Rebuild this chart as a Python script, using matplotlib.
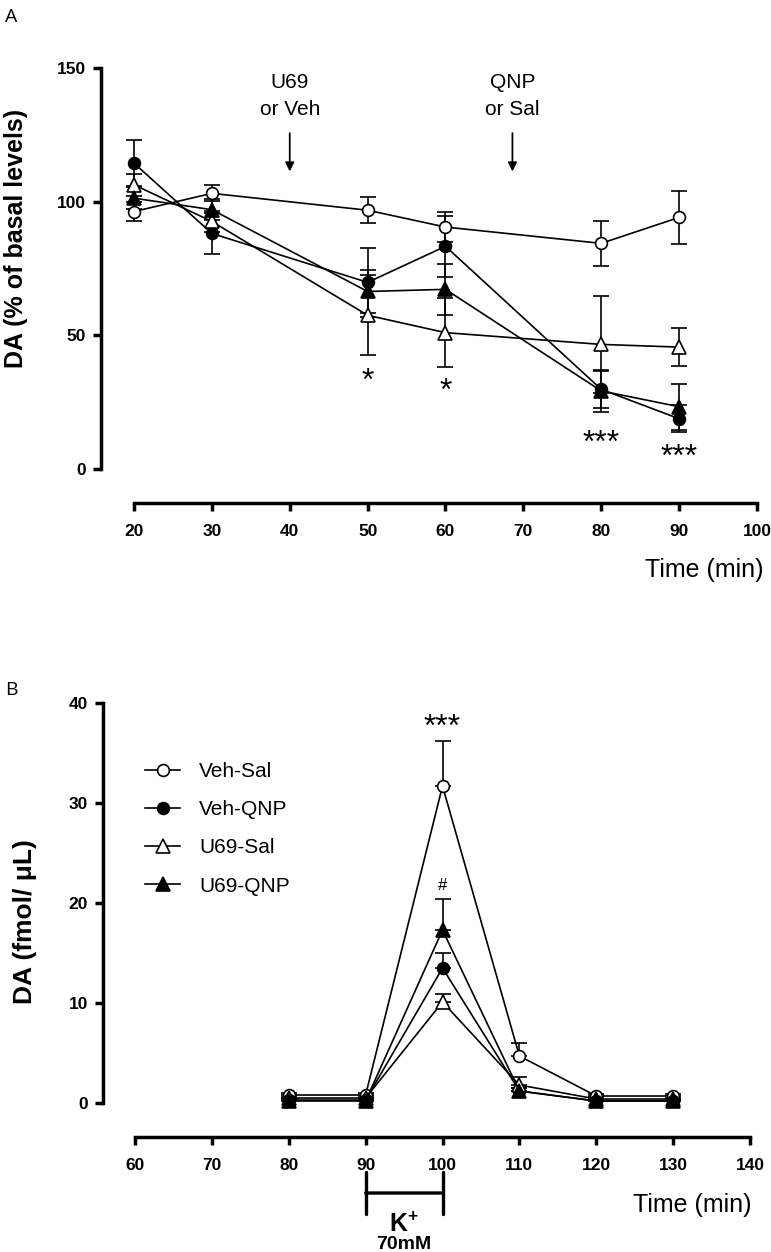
import matplotlib.pyplot as plt
from matplotlib.lines import Line2D
from matplotlib.transforms import blended_transform_factory

plt.rcParams['font.family'] = ['Liberation Sans', 'DejaVu Sans']
plt.rcParams['mathtext.fontset'] = 'custom'
plt.rcParams['mathtext.rm'] = 'Liberation Sans'
plt.rcParams['mathtext.bf'] = 'Liberation Sans:bold'

groups = ['Veh-Sal', 'Veh-QNP', 'U69-Sal', 'U69-QNP']
markers = ['o', 'o', '^', '^']
filled = [False, True, False, True]

# panel A: DA as % of basal levels
time_a = [20, 30, 50, 60, 80, 90]
veh_sal_a = [96.3, 103.1, 96.8, 90.5, 84.4, 94.1]
veh_qnp_a = [114.4, 88.1, 69.8, 83.3, 29.8, 18.8]
u69_sal_a = [106.3, 92.6, 57.5, 51.0, 46.6, 45.6]
u69_qnp_a = [101.3, 97.0, 66.4, 67.2, 29.2, 23.3]
veh_sal_a_err = [3.5, 3.0, 4.8, 5.5, 8.5, 10.0]
veh_qnp_a_err = [8.5, 7.5, 12.8, 11.5, 7.0, 5.0]
u69_sal_a_err = [4.0, 4.0, 15.0, 13.0, 18.0, 7.1]
u69_qnp_a_err = [4.0, 4.0, 8.0, 9.5, 8.0, 8.6]
stars_a_x = [50, 60, 80, 90]
stars_a_y = [35.6, 31.9, 12.5, 7.0]
stars_a_txt = ['*', '*', '***', '***']
inject_x = [40, 68.6]
inject_l1 = ['U69', 'QNP']
inject_l2 = ['or Veh', 'or Sal']

# panel B: DA fmol/uL, K+ stimulation
time_b = [80, 90, 100, 110, 120, 130]
veh_sal_b = [0.8, 0.8, 31.7, 4.7, 0.7, 0.7]
veh_qnp_b = [0.3, 0.3, 13.5, 1.2, 0.2, 0.2]
u69_sal_b = [0.5, 0.5, 10.1, 1.8, 0.4, 0.4]
u69_qnp_b = [0.2, 0.2, 17.3, 1.2, 0.2, 0.2]
veh_sal_b_err = [0.2, 0.2, 4.5, 1.3, 0.2, 0.2]
veh_qnp_b_err = [0.1, 0.1, 1.5, 0.3, 0.1, 0.1]
u69_sal_b_err = [0.1, 0.1, 0.8, 0.8, 0.1, 0.1]
u69_qnp_b_err = [0.1, 0.1, 3.1, 0.3, 0.1, 0.1]
k_window = [90, 100]

series_a = [(veh_sal_a, veh_sal_a_err), (veh_qnp_a, veh_qnp_a_err),
            (u69_sal_a, u69_sal_a_err), (u69_qnp_a, u69_qnp_a_err)]
series_b = [(veh_sal_b, veh_sal_b_err), (veh_qnp_b, veh_qnp_b_err),
            (u69_sal_b, u69_sal_b_err), (u69_qnp_b, u69_qnp_b_err)]

fig = plt.figure(figsize=(7.71, 12.52), dpi=100)
axA = fig.add_axes([0.1738, 0.6254, 0.8080, 0.3203])
axB = fig.add_axes([0.1751, 0.1190, 0.7977, 0.3195])


def style(ax, left_out, bottom_out):
    for s in ['top', 'right']:
        ax.spines[s].set_visible(False)
    for s in ['left', 'bottom']:
        ax.spines[s].set_linewidth(2.5)
    ax.spines['left'].set_position(('outward', left_out))
    ax.spines['bottom'].set_position(('outward', bottom_out))
    ax.tick_params(length=6, width=2.5, labelsize=12.5)
    ax.tick_params(axis='x', pad=9)
    ax.tick_params(axis='y', pad=5)
    for lab in ax.get_xticklabels() + ax.get_yticklabels():
        lab.set_fontweight('bold')


def draw(ax, x, series, both):
    for (y, e), m, f in zip(series, markers, filled):
        if both:
            yerr = e
        else:
            yerr = [[0] * len(e), e]
        ms = 8.5 if m == 'o' else 9.5
        c = ax.errorbar(x, y, yerr=yerr, fmt=m + '-', color='black', lw=1.2,
                        ms=ms, mfc='black' if f else 'white', mec='black', mew=1.2,
                        capsize=6, elinewidth=1.2, capthick=1.5)
        for art in c.lines[1] + c.lines[2]:
            art.set_clip_on(False)
        c.lines[0].set_clip_on(False)


# ---- panel A
draw(axA, time_a, series_a, True)
axA.set_xlim(20, 100)
axA.set_ylim(0, 150)
axA.set_xticks(range(20, 101, 10))
axA.set_yticks([0, 50, 100, 150])
style(axA, 23.8, 24.5)
axA.set_ylabel('DA (% of basal levels)', fontsize=18, fontweight='bold')
axA.yaxis.set_label_coords(-0.17, 0.576)
axA.text(1.01, -0.252, 'Time (min)', transform=axA.transAxes, ha='right', va='center', fontsize=18)
for x, y, t in zip(stars_a_x, stars_a_y, stars_a_txt):
    axA.text(x, y - 3.0, t, ha='center', va='center', fontsize=23)
for x, l1, l2 in zip(inject_x, inject_l1, inject_l2):
    axA.text(x, 144.4, l1, ha='center', va='center', fontsize=15)
    axA.text(x, 134.4, l2, ha='center', va='center', fontsize=15)
    axA.annotate('', xy=(x, 111.3), xytext=(x, 125.6),
                 arrowprops=dict(arrowstyle='-|>', color='black', lw=1.3,
                                 mutation_scale=13, shrinkA=0, shrinkB=0))
fig.text(11 / 771, 1 - 17 / 1252, 'A', fontsize=14, family='Open Sans', ha='center', va='center')

# ---- panel B
draw(axB, time_b, series_b, False)
axB.set_xlim(60, 140)
axB.set_ylim(0, 40)
axB.set_xticks(range(60, 141, 10))
axB.set_yticks(range(0, 41, 10))
style(axB, 23.0, 24.5)
axB.set_ylabel('DA (fmol/ μL)', fontsize=19, fontweight='bold')
axB.yaxis.set_label_coords(-0.16, 0.4525)
axB.text(1.003, -0.255, 'Time (min)', transform=axB.transAxes, ha='right', va='center', fontsize=18)
axB.text(100, 37.5, '***', ha='center', va='center', fontsize=23)
axB.text(100, 21.8, '#', ha='center', va='center', fontsize=12)

handles = [Line2D([], [], color='black', lw=1.2, marker=m, ms=8.5 if m == 'o' else 9.5,
                  mfc='black' if f else 'white', mec='black', mew=1.2)
           for m, f in zip(markers, filled)]
axB.legend(handles, groups, loc='upper left', bbox_to_anchor=(0.016, 0.8525), frameon=False,
           fontsize=15, handlelength=1.7, handletextpad=0.9, labelspacing=0.92,
           borderpad=0, borderaxespad=0)

tr = blended_transform_factory(axB.transData, axB.transAxes)
axB.annotate('', xy=(k_window[1], -0.225), xytext=(k_window[0], -0.225),
             xycoords=tr, textcoords=tr, annotation_clip=False,
             arrowprops=dict(arrowstyle='|-|,widthA=0.5,widthB=0.5', color='black',
                             lw=2.4, mutation_scale=30, shrinkA=0, shrinkB=0))
kx = sum(k_window) / 2
axB.text(kx, -0.3225, r'$\mathbf{K^{+}}$', transform=tr, ha='center', va='baseline', fontsize=18)
axB.text(kx, -0.365, '70mM', transform=tr, ha='center', va='baseline', fontsize=14, fontweight='bold')
fig.text(11 / 771, 1 - 690 / 1252, 'B', fontsize=14, family='Open Sans', ha='center', va='center')

fig.savefig('out.png', dpi=100)
